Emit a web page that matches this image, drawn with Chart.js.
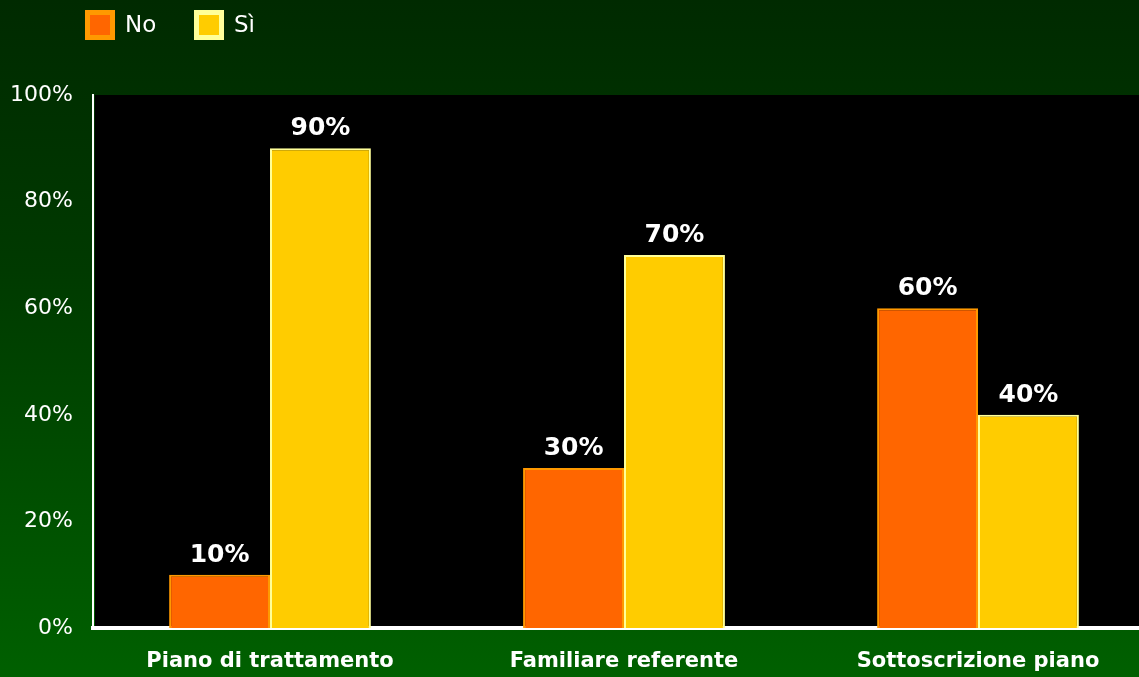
<!DOCTYPE html>
<html>
<head>
<meta charset="utf-8">
<script src="https://cdn.jsdelivr.net/npm/chart.js@4"></script>
<style>
  html, body { margin: 0; padding: 0; overflow: hidden; }
  body { width: 1139px; height: 677px; background: linear-gradient(to bottom, #002a00 0%, #003a00 40%, #006000 100%); }
  #wrap { width: 1155px; height: 677px; position: relative; }
</style>
</head>
<body>
<div id="wrap"><canvas id="chart"></canvas></div>
<script>
/* ======================================================
    DATA
====================================================== */
const categories = ['Piano di trattamento', 'Familiare referente', 'Sottoscrizione piano'];
const seriesNo = [10, 30, 60];
const seriesSi = [90, 70, 40];
const seriesNames = ['No', 'Sì'];
const yTicks = [0, 20, 40, 60, 80, 100];

const FONT = "'DejaVu Sans', Verdana, sans-serif";

/* ======================================================
    PLUGINS
====================================================== */
// black plot area
const plotBg = {
    id: 'plotBg',
    beforeDraw(chart) {
        const { ctx, chartArea: a } = chart;
        ctx.save();
        ctx.fillStyle = '#000';
        ctx.fillRect(a.left + 2, a.top, a.right - a.left, a.bottom - a.top);
        ctx.restore();
    }
};

// value labels above bars
const valueLabels = {
    id: 'valueLabels',
    afterDatasetsDraw(chart) {
        const ctx = chart.ctx;
        ctx.save();
        ctx.fillStyle = '#fff';
        ctx.font = 'bold 25px ' + FONT;
        ctx.textAlign = 'center';
        ctx.textBaseline = 'alphabetic';
        chart.data.datasets.forEach((ds, i) => {
            chart.getDatasetMeta(i).data.forEach((bar, j) => {
                ctx.fillText(ds.data[j] + '%', bar.x, bar.y - 13);
            });
        });
        ctx.restore();
    }
};

// legend top-left
const topLegend = {
    id: 'topLegend',
    afterDraw(chart) {
        const ctx = chart.ctx;
        const xs = [85, 194];
        ctx.save();
        ctx.font = '23px ' + FONT;
        ctx.textBaseline = 'middle';
        chart.data.datasets.forEach((ds, i) => {
            const x = xs[i];
            ctx.fillStyle = ds.borderColor;
            ctx.fillRect(x, 10, 30, 30);
            ctx.fillStyle = ds.backgroundColor;
            ctx.fillRect(x + 5, 15, 20, 20);
            ctx.fillStyle = '#fff';
            ctx.fillText(ds.label, x + 40, 26);
        });
        ctx.restore();
    }
};

/* ======================================================
    CHART
====================================================== */
new Chart(document.getElementById('chart').getContext('2d'), {
    type: 'bar',
    data: {
        labels: categories,
        datasets: [{
            label: seriesNames[0],
            data: seriesNo,
            backgroundColor: '#ff6600',
            borderColor: '#ff9900',
            borderWidth: 2,
            borderSkipped: 'bottom'
        }, {
            label: seriesNames[1],
            data: seriesSi,
            backgroundColor: '#ffcc00',
            borderColor: '#ffff99',
            borderWidth: 2,
            borderSkipped: 'bottom'
        }]
    },
    options: {
        responsive: true,
        maintainAspectRatio: false,
        animation: false,
        layout: { padding: { top: 95, right: 0, left: 0, bottom: 0 } },
        datasets: { bar: { categoryPercentage: 0.57, barPercentage: 1.0 } },
        plugins: {
            legend: { display: false },
            tooltip: { enabled: false }
        },
        scales: {
            x: {
                grid: { display: false, drawTicks: false },
                border: { color: '#fff', width: 4 },
                ticks: { color: '#fff', font: { family: FONT, size: 21, weight: 'bold' }, padding: 21, maxRotation: 0 },
                afterFit(s) { s.height = 49; }
            },
            y: {
                min: 0, max: 100,
                afterBuildTicks(s) { s.ticks = yTicks.map(v => ({ value: v })); },
                grid: { display: false, drawTicks: false },
                border: { color: '#fff', width: 2 },
                ticks: { color: '#fff', font: { family: FONT, size: 22 }, padding: 20, callback: v => v + '%' },
                afterFit(s) { s.width = 93; }
            }
        }
    },
    plugins: [plotBg, valueLabels, topLegend]
});
</script>
</body>
</html>
